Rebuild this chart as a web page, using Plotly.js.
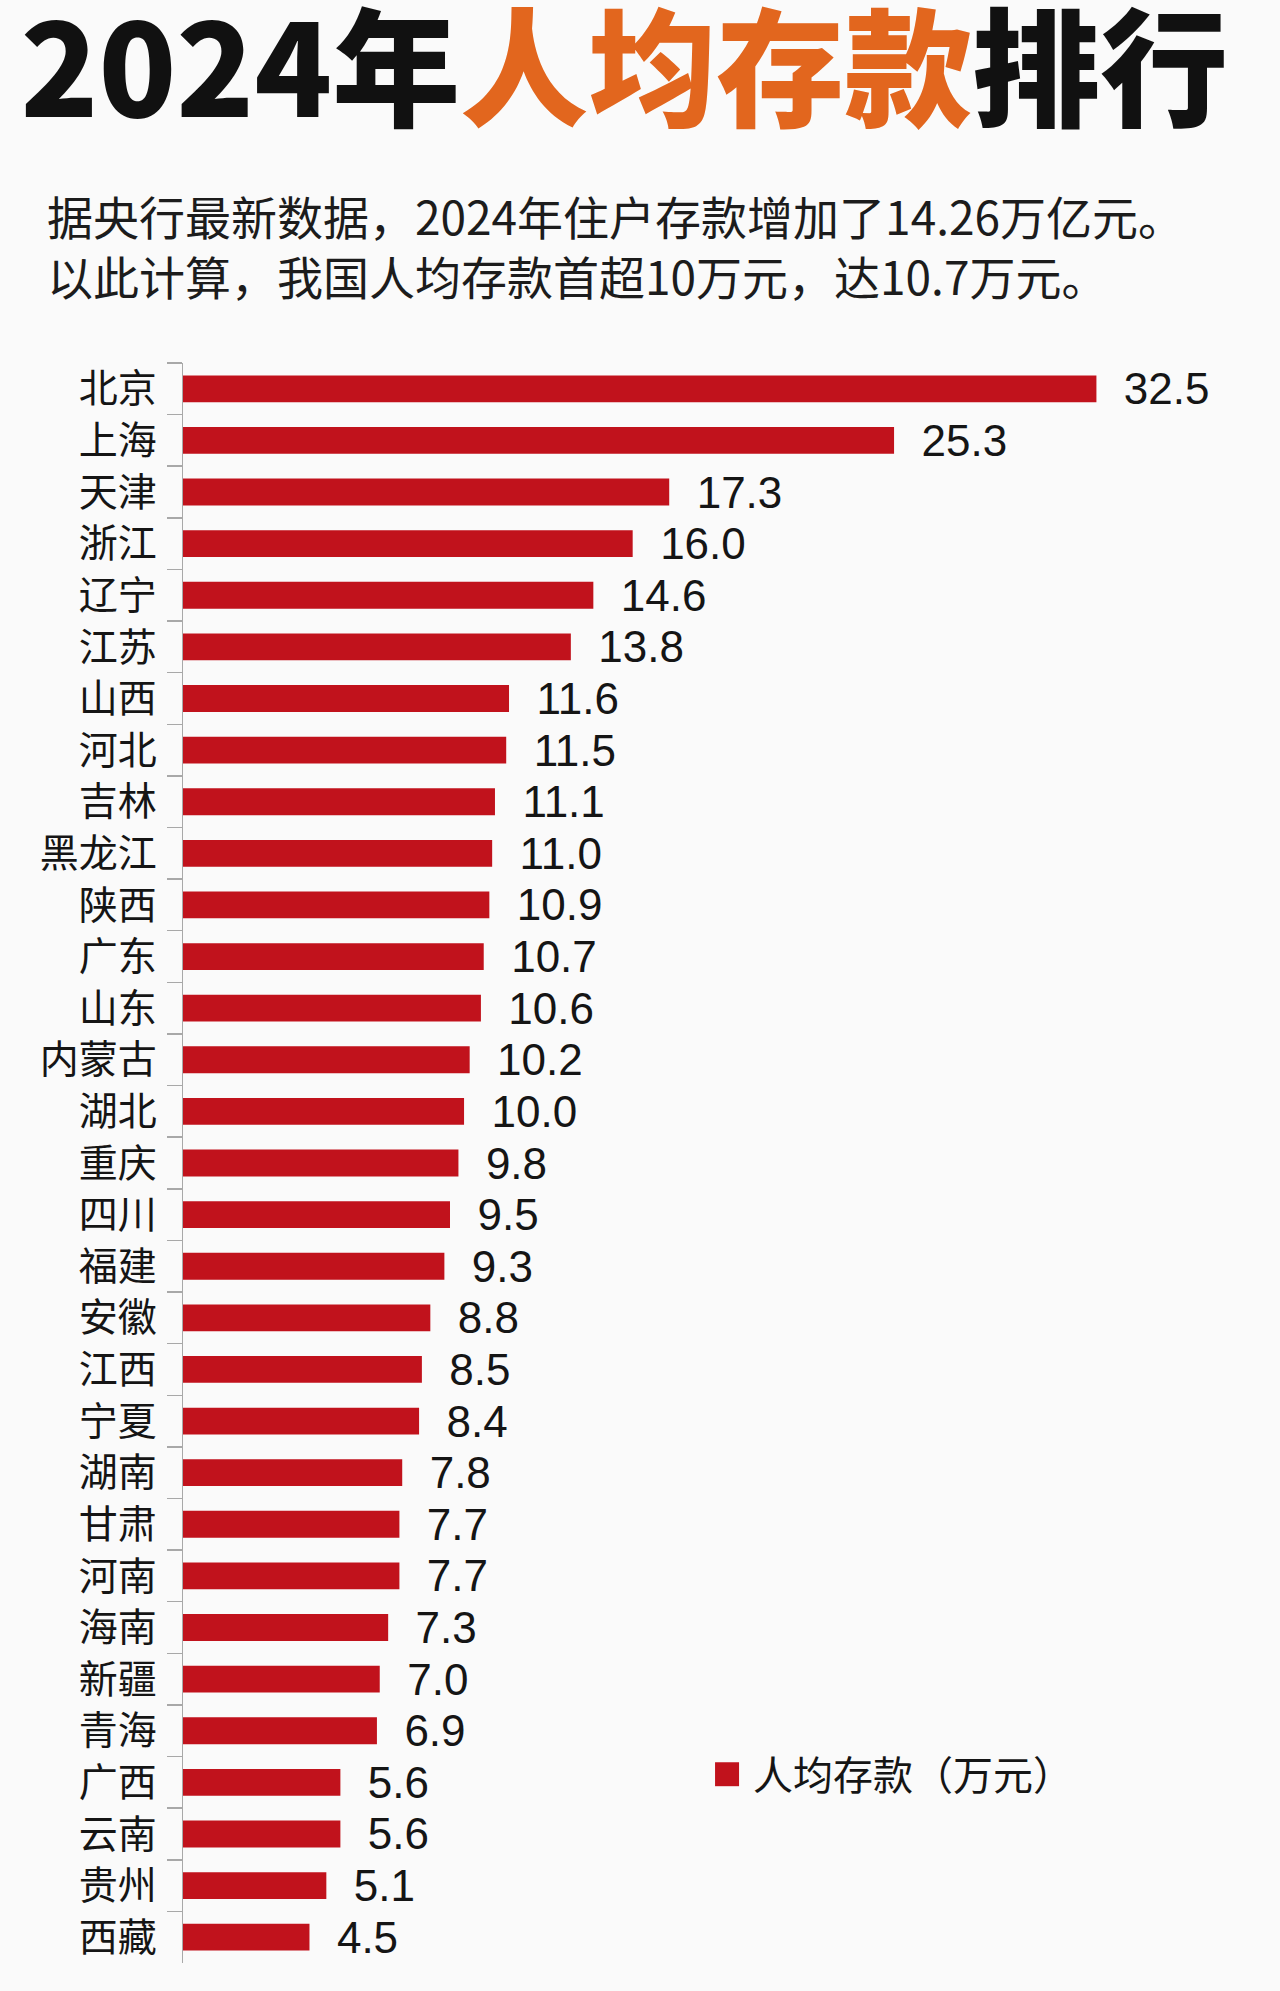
<!DOCTYPE html>
<html>
<head>
<meta charset="utf-8">
<script src="https://cdn.plot.ly/plotly-3.0.1.min.js"></script>
<style>html,body{margin:0;padding:0;background:#FAFAFA;}#chart{width:1280px;height:1991px;}</style>
</head>
<body>
<div id="chart"></div>
<script>
const regions = ['北京','上海','天津','浙江','辽宁','江苏','山西','河北','吉林','黑龙江','陕西','广东','山东','内蒙古','湖北','重庆','四川','福建','安徽','江西','宁夏','湖南','甘肃','河南','海南','新疆','青海','广西','云南','贵州','西藏'];
const depositPerCapita = [32.5,25.3,17.3,16.0,14.6,13.8,11.6,11.5,11.1,11.0,10.9,10.7,10.6,10.2,10.0,9.8,9.5,9.3,8.8,8.5,8.4,7.8,7.7,7.7,7.3,7.0,6.9,5.6,5.6,5.1,4.5];
const seriesName = '人均存款（万元）';
const titleText = '2024年<span style="color:#E2661E">人均存款</span>排行';
const subtitleLines = ['据央行最新数据，2024年住户存款增加了14.26万亿元。', '以此计算，我国人均存款首超10万元，达10.7万元。'];

const cjk = '"Noto Sans CJK SC", "Noto Sans", sans-serif';
const num = '"Liberation Sans", Arial, sans-serif';

const trace = {
  type: 'bar',
  orientation: 'h',
  y: regions,
  x: depositPerCapita,
  name: seriesName,
  marker: {color: '#C1121C'},
  texttemplate: '\u00A0\u00A0%{x:.1f}',
  textposition: 'outside',
  constraintext: 'none',
  cliponaxis: false,
  textfont: {family: num, size: 44, color: '#151515'},
  hoverinfo: 'skip',
  showlegend: true
};

const layout = {
  width: 1280,
  height: 1991,
  paper_bgcolor: '#FAFAFA',
  plot_bgcolor: '#FAFAFA',
  margin: {l: 183, r: 29, t: 363, b: 28},
  bargap: 0.48,
  title: {
    text: titleText,
    font: {family: cjk, size: 128, color: '#111111', weight: 900},
    x: 0.016, xanchor: 'left', xref: 'container',
    y: 0.986, yanchor: 'top', yref: 'container'
  },
  xaxis: {range: [0, 38], visible: false, showgrid: false, zeroline: false, fixedrange: true},
  yaxis: {
    type: 'category',
    autorange: 'reversed',
    showline: true, linecolor: '#A8A8A8', linewidth: 1.5,
    ticks: 'outside', tickson: 'boundaries', ticklen: 15, tickcolor: '#A8A8A8', tickwidth: 1.5,
    ticklabelstandoff: 17,
    tickfont: {family: cjk, size: 39, color: '#151515'},
    showgrid: false, zeroline: false
  },
  legend: {
    x: 0.4963, xanchor: 'left', y: 0.118, yanchor: 'middle',
    bgcolor: 'rgba(0,0,0,0)',
    font: {family: cjk, size: 40, color: '#151515'}
  },
  annotations: [{
    text: subtitleLines.join('<br>'),
    xref: 'paper', yref: 'paper',
    x: -0.1288, y: 1.0735, xanchor: 'left', yanchor: 'middle', align: 'left',
    showarrow: false,
    font: {family: cjk, size: 46, color: '#1C1C1C'}
  }]
};

function enlargeLegendSymbol(gd) {
  gd.querySelectorAll('g.legendpoints path').forEach(function (p) {
    p.setAttribute('d', 'M6,12H-18V-12H6Z');
  });
}

const gdEl = document.getElementById('chart');
Plotly.newPlot(gdEl, [trace], layout, {displayModeBar: false, staticPlot: true}).then(function (gd) {
  enlargeLegendSymbol(gd);
  gd.on('plotly_afterplot', function () { enlargeLegendSymbol(gd); });
  setTimeout(function () { enlargeLegendSymbol(gd); }, 300);
  setTimeout(function () { enlargeLegendSymbol(gd); }, 1000);
});
</script>
</body>
</html>
